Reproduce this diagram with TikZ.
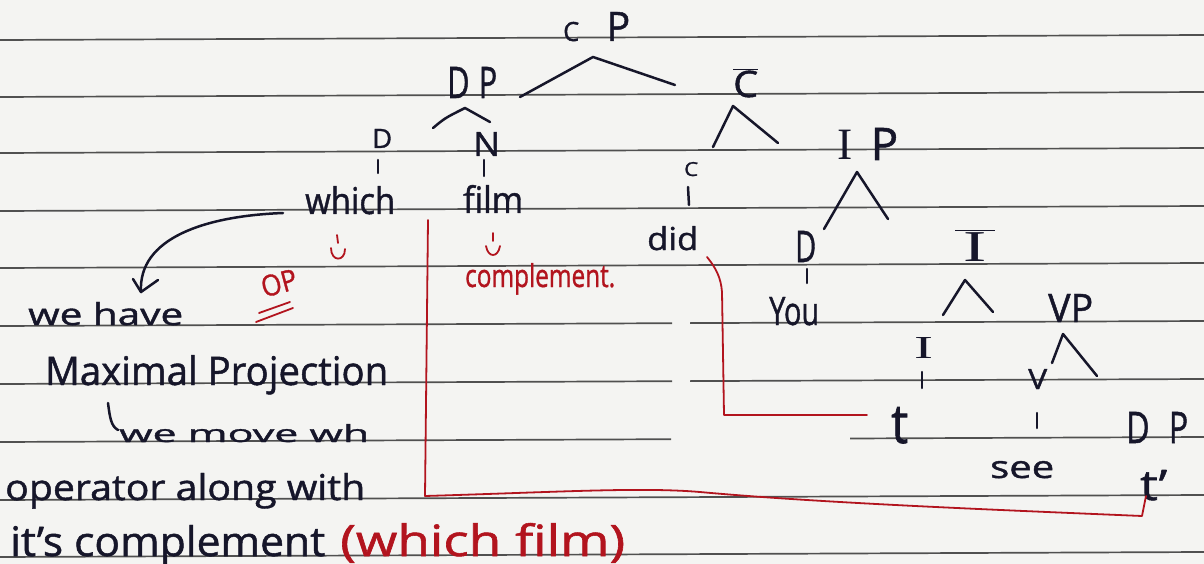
\documentclass[tikz,border=0pt]{standalone}
\usepackage{fontspec}
\usepackage{graphicx}
\setmainfont{Open Sans}
\newfontfamily\hand{Open Sans}[Ligatures=TeX, FakeBold=1.2]
\newfontfamily\serifI{Liberation Serif}
\definecolor{paper}{HTML}{F4F4F2}
\definecolor{ink}{HTML}{16162A}
\definecolor{redink}{HTML}{B2141E}
\definecolor{rulegray}{HTML}{505050}
% handwritten word squeezed into a given width and height (pt)
\newcommand\hw[3]{\resizebox{#1pt}{#2pt}{#3}}

\begin{document}
\begin{tikzpicture}[x=1pt,y=-1pt,
  txt/.style={inner sep=0pt, anchor=base west, text=ink, font=\hand\fontsize{28}{30}\selectfont},
  redtxt/.style={txt, text=redink},
  branch/.style={draw=ink, line width=2.5pt, line cap=round, line join=round},
  redline/.style={draw=redink, line width=1.8pt, line cap=round, line join=round},
  rule/.style={draw=rulegray, line width=1.7pt}]

\useasboundingbox (0,0) rectangle (1204,564);
\fill[paper] (0,0) rectangle (1204,564);

% ruled notebook lines (slightly tilted)
\foreach \y in {40,97,153,211,268,500,557}
  \draw[rule] (0,\y) -- (1204,\y-5);
\draw[rule] (0,326) -- (672,323.2) (690,323.1) -- (1204,321);
\draw[rule] (0,384) -- (672,381.2) (690,381.1) -- (1204,379);
\draw[rule] (0,442) -- (671,439.2) (850,438.5) -- (1204,437);

% ---------- tree labels ----------
\node[txt] (CP)    at (563,41)   {\hw{67}{29}{\scalebox{0.65}{C}\hspace{0.7em}P}};
\node[txt] (DP)    at (447,98)   {\hw{50}{31}{D\hspace{0.3em}P}};
\node[txt] (Cbar)  at (733,97)   {\hw{25}{29}{$\overline{\mbox{C}}$}};
\node[txt] (Dspec) at (372,148)  {\hw{20}{19}{D}};
\node[txt] (N)     at (473,156)  {\hw{27}{24}{N}};
\node[txt] (which) at (305,214)  {\hw{90}{28}{which}};
\node[txt] (film)  at (463,213)  {\hw{60}{28}{film}};
\node[txt] (C)     at (684,176)  {\hw{14}{14}{C}};
\node[txt] (did)   at (647,250)  {\hw{51}{24}{did}};
\node[txt] (IP)    at (837,160)  {\hw{61}{32}{{\serifI I}\hspace{0.4em}P}};
\node[txt] (Dsubj) at (795,262)  {\hw{21}{31}{D}};
\node[txt] (you)   at (769,325)  {\hw{50}{28}{You}};
\node[txt] (Ibar)  at (955,261)  {\hw{40}{32}{$\overline{\mbox{\hspace{0.12em}\serifI I\hspace{0.12em}}}$}};
\node[txt] (I)     at (914,358)  {\hw{19}{21}{\serifI I}};
\node[txt] (t)     at (891,443)  {\hw{17}{36}{t}};
\node[txt] (VP)    at (1048,322) {\hw{45}{28}{VP}};
\node[txt] (V)     at (1028,389) {\hw{19}{20}{V}};
\node[txt] (see)   at (990,478)  {\hw{64}{17}{see}};
\node[txt] (DP2)   at (1126,443) {\hw{62}{31}{D\hspace{0.6em}P}};
\node[txt] (tr)    at (1140,500) {\hw{27}{30}{t'}};

% ---------- branches ----------
\coordinate (cpL) at (520,97);  \coordinate (cpA) at (593,57);  \coordinate (cpR) at (675,85);
\coordinate (dpL) at (433,128); \coordinate (dpA) at (465,108); \coordinate (dpR) at (490,122);
\coordinate (cbL) at (713,147); \coordinate (cbA) at (733,106); \coordinate (cbR) at (778,143);
\coordinate (ipL) at (824,229); \coordinate (ipA) at (857,172); \coordinate (ipR) at (888,219);
\coordinate (ibL) at (943,315); \coordinate (ibA) at (965,280); \coordinate (ibR) at (993,312);
\coordinate (vpL) at (1052,363);\coordinate (vpA) at (1063,334);\coordinate (vpR) at (1097,376);
\draw[branch] (cpL) -- (cpA) -- (cpR);
\draw[branch] (dpL) .. controls (445,118) .. (dpA) -- (dpR);
\draw[branch] (cbL) -- (cbA) -- (cbR);
\draw[branch] (ipL) -- (ipA) -- (ipR);
\draw[branch] (ibL) -- (ibA) -- (ibR);
\draw[branch] (vpL) -- (vpA) -- (vpR);

% short strokes from heads to words
\coordinate (k1a) at (378,160);  \coordinate (k1b) at (378,173);
\coordinate (k2a) at (484,160);  \coordinate (k2b) at (484,176);
\coordinate (k3a) at (688,187);  \coordinate (k3b) at (689,205);
\coordinate (k4a) at (807,269);  \coordinate (k4b) at (807,283);
\coordinate (k5a) at (922,372);  \coordinate (k5b) at (922,388);
\coordinate (k6a) at (1037,413); \coordinate (k6b) at (1037,428);
\foreach \k in {1,...,6} \draw[branch] (k\k a) -- (k\k b);

% ---------- red movement lines ----------
\coordinate (rA) at (428,220); \coordinate (rB) at (425,496);
\coordinate (rC) at (1142,516); \coordinate (rD) at (1146,496);
\draw[redline] (rA) -- (rB) .. controls (560,492) and (640,487) .. (700,492)
  .. controls (820,503) and (1000,510) .. (rC) -- (rD);
\coordinate (rE) at (707,257); \coordinate (rF) at (724,415); \coordinate (rG) at (867,415);
\draw[redline] (rE) .. controls (716,268) and (721,278) .. (722,292) -- (rF) -- (rG);

% red notes
\draw[redline] (337,235) -- (338,243);
\draw[redline] (331,248) .. controls (331,262) and (345,262) .. (345,249);
\node[redtxt, anchor=center, rotate=15] (OP) at (279,283) {\hw{36}{21}{OP}};
\draw[redline] (256,322) -- (293,308);
\draw[redline] (259,313) -- (290,302);
\draw[redline] (493,233) -- (493,241);
\draw[redline] (486,246) .. controls (488,258) and (498,258) .. (500,246);
\node[redtxt] (comp) at (465,287) {\hw{150}{24}{complement.}};

% ---------- black notes on the left ----------
\coordinate (cA) at (283,213); \coordinate (cB) at (141,292);
\draw[branch] (cA) .. controls (205,216) and (138,238) .. (cB);
\draw[branch] (133,279) -- (cB) -- (158,280);
\node[txt] (l1) at (28,325)  {\hw{155}{23}{we have}};
\node[txt] (l2) at (45,385)  {\hw{343}{30}{Maximal Projection}};
\draw[branch] (108,403) .. controls (110,418) and (111,426) .. (118,430);
\node[txt] (l3) at (119,442) {\hw{250}{18}{we move wh}};
\node[txt] (l4) at (5,500)   {\hw{360}{27}{operator along with}};
\node[txt] (l5) at (10,556)  {\hw{315}{31}{it's complement}};
\node[redtxt] (l6) at (340,556) {\hw{285}{33}{(which film)}};
\end{tikzpicture}
\end{document}
